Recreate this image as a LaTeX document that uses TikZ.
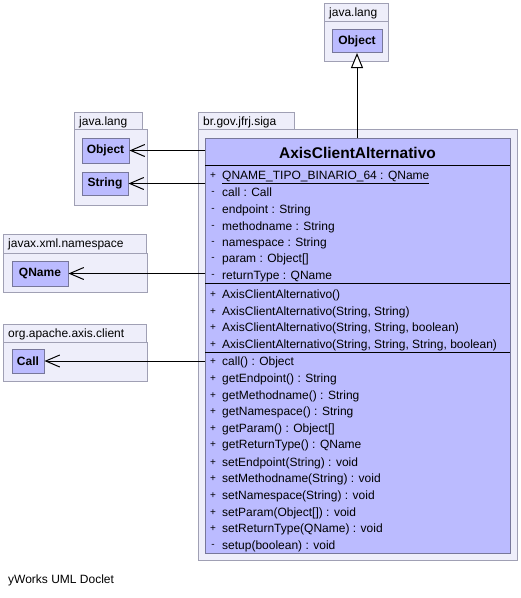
\documentclass[tikz,border=0pt]{standalone}
\usepackage{fontspec}
\setmainfont{Liberation Sans}
\usetikzlibrary{arrows.meta}
\definecolor{pkgfill}{HTML}{EEEEFA}
\definecolor{pkgline}{HTML}{A0A0B4}
\definecolor{clsfill}{HTML}{BBBBFF}
\definecolor{clsline}{HTML}{77779A}
\newcommand\umlrow[3]{%
  \node[marker] at (213,#1) {#2};
  \node[rowtext] at (222,#1) {#3};}
\begin{document}
\begin{tikzpicture}[x=1pt,y=-1pt,
  pkg/.style={draw=pkgline, fill=pkgfill, line width=1pt},
  pkglabel/.style={anchor=west, inner sep=0pt, font=\fontsize{12}{14}\selectfont, text height=8.6pt, text depth=0pt},
  smallcls/.style={draw=clsline, fill=clsfill, line width=1pt, inner sep=0pt, font=\fontsize{12}{14}\selectfont\bfseries},
  clsbox/.style={draw=clsline, fill=clsfill, line width=1pt, inner sep=0pt, anchor=north west},
  sepline/.style={draw=black, line width=1pt},
  marker/.style={inner sep=0pt, font=\fontsize{10}{12}\selectfont, anchor=center, yshift=-1pt},
  rowtext/.style={anchor=west, inner sep=0pt, font=\fontsize{12}{14}\selectfont, text height=8.6pt, text depth=0pt},
  dep/.style={draw=black, line width=1pt, -{Straight Barb[length=14pt,width=12pt,line width=1pt]}},
  inh/.style={draw=black, line width=1pt, -{Triangle[open,length=15pt,width=12pt,line width=1pt,fill=white]}}
]
\useasboundingbox (0,0) rectangle (521,598);
\fill[white] (0,0) rectangle (521,598);

% top java.lang package
\draw[pkg] (324,21) rectangle (388,61);
\draw[pkg] (324,3) rectangle (388,21);
\node[pkglabel] (pkgA) at (329,12) {java.lang};
\node[smallcls, minimum width=50pt, minimum height=23pt] (objTop) at (357,41) {Object};

% left java.lang package
\draw[pkg] (74,129) rectangle (147,205);
\draw[pkg] (74,112) rectangle (142,129);
\node[pkglabel] (pkgB) at (79,121) {java.lang};
\node[smallcls, minimum width=47pt, minimum height=25pt] (objLeft) at (105.5,150.5) {Object};
\node[smallcls, minimum width=46pt, minimum height=23pt] (str) at (105,183.5) {String};

% javax.xml.namespace package
\draw[pkg] (3,253) rectangle (147,292);
\draw[pkg] (3,234) rectangle (146,253);
\node[pkglabel] (pkgC) at (8,243) {javax.xml.namespace};
\node[smallcls, minimum width=56pt, minimum height=25pt] (qname) at (40,273.5) {QName};

% org.apache.axis.client package
\draw[pkg] (3,342) rectangle (147,381);
\draw[pkg] (3,324) rectangle (146,342);
\node[pkglabel] (pkgD) at (8,333) {org.apache.axis.client};
\node[smallcls, minimum width=32pt, minimum height=24pt] (callc) at (28,361) {Call};

% main package
\draw[pkg] (198,129) rectangle (517,560);
\draw[pkg] (198,112) rectangle (294,129);
\node[pkglabel] (pkgE) at (203,121) {br.gov.jfrj.siga};

% main class
\node[clsbox, minimum width=305pt, minimum height=415pt] (cls) at (205,138) {};
\node[inner sep=0pt, font=\fontsize{15.5}{18}\selectfont\bfseries] (title) at (357.5,153) {AxisClientAlternativo};
\draw[sepline] (205,165) -- (510,165);
\draw[sepline] (205,283) -- (510,283);
\draw[sepline] (205,352) -- (510,352);

% attributes
\umlrow{175}{+}{\underline{QNAME\_TIPO\_BINARIO\_64 : QName}}
\umlrow{192}{-}{call : Call}
\umlrow{209}{-}{endpoint : String}
\umlrow{226}{-}{methodname : String}
\umlrow{242}{-}{namespace : String}
\umlrow{258}{-}{param : Object[]}
\umlrow{275}{-}{returnType : QName}
% constructors
\umlrow{294}{+}{AxisClientAlternativo()}
\umlrow{311}{+}{AxisClientAlternativo(String, String)}
\umlrow{327}{+}{AxisClientAlternativo(String, String, boolean)}
\umlrow{344}{+}{AxisClientAlternativo(String, String, String, boolean)}
% methods
\umlrow{361}{+}{call() : Object}
\umlrow{378}{+}{getEndpoint() : String}
\umlrow{395}{+}{getMethodname() : String}
\umlrow{411}{+}{getNamespace() : String}
\umlrow{428}{+}{getParam() : Object[]}
\umlrow{444}{+}{getReturnType() : QName}
\umlrow{462}{+}{setEndpoint(String) : void}
\umlrow{478}{+}{setMethodname(String) : void}
\umlrow{495}{+}{setNamespace(String) : void}
\umlrow{512}{+}{setParam(Object[]) : void}
\umlrow{528}{+}{setReturnType(QName) : void}
\umlrow{545}{-}{setup(boolean) : void}

% connectors
\draw[inh] (cls.north -| objTop.south) -- (objTop.south);
\draw[dep] (cls.west |- objLeft.east) -- (objLeft.east);
\draw[dep] (cls.west |- str.east) -- (str.east);
\draw[dep] (cls.west |- qname.east) -- (qname.east);
\draw[dep] (cls.west |- callc.east) -- (callc.east);

% footer
\node[pkglabel] (footer) at (8,579) {yWorks UML Doclet};
\end{tikzpicture}
\end{document}
